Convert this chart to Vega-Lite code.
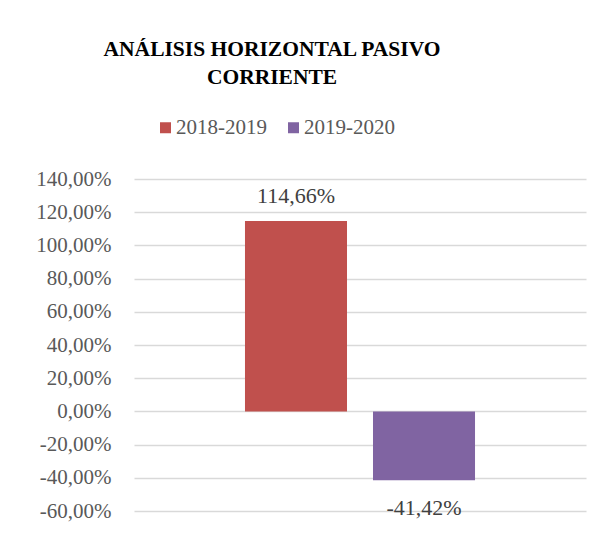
{
  "$schema": "https://vega.github.io/schema/vega-lite/v6.json",
  "width": 452,
  "height": 332,
  "autosize": "none",
  "padding": {"left": 134, "top": 179, "right": 17, "bottom": 23},
  "background": "white",
  "config": {
    "locale": {"number": {"decimal": ",", "thousands": ".", "grouping": [3], "currency": ["", " €"], "minus": "-"}},
    "view": {"stroke": null},
    "font": "Liberation Serif"
  },
  "title": {
    "text": ["ANÁLISIS HORIZONTAL PASIVO", "CORRIENTE"],
    "font": "Liberation Serif",
    "fontSize": 21.5,
    "fontWeight": "bold",
    "color": "#000000",
    "anchor": "middle",
    "dx": -88,
    "offset": 29,
    "lineHeight": 28
  },
  "data": {
    "values": [
      {"periodo": "2018-2019", "valor": 1.1466},
      {"periodo": "2019-2020", "valor": -0.4142}
    ]
  },
  "encoding": {
    "x": {
      "field": "periodo",
      "type": "nominal",
      "axis": null,
      "scale": {"paddingInner": 0.203, "paddingOuter": 0.867}
    },
    "y": {
      "field": "valor",
      "type": "quantitative",
      "scale": {"domain": [-0.6, 1.4], "nice": false, "zero": false},
      "axis": {
        "title": null,
        "format": ".2%",
        "values": [-0.6, -0.4, -0.2, 0, 0.2, 0.4, 0.6, 0.8, 1.0, 1.2, 1.4],
        "domain": false,
        "ticks": false,
        "labelFont": "Liberation Serif",
        "labelFontSize": 21,
        "labelColor": "#595959",
        "labelPadding": 23,
        "gridColor": "#d9d9d9",
        "gridWidth": 1.3
      }
    }
  },
  "layer": [
    {
      "mark": {"type": "bar"},
      "encoding": {
        "color": {
          "field": "periodo",
          "type": "nominal",
          "scale": {"domain": ["2018-2019", "2019-2020"], "range": ["#C0504D", "#8064A2"]},
          "legend": {
            "title": null,
            "orient": "none",
            "direction": "horizontal",
            "legendX": 21,
            "legendY": -62,
            "padding": 0,
            "symbolType": "square",
            "symbolSize": 121,
            "symbolStrokeWidth": 0,
            "symbolOpacity": 1,
            "labelFont": "Liberation Serif",
            "labelFontSize": 21,
            "labelColor": "#595959",
            "labelOffset": 0,
            "columnPadding": 16
          }
        }
      }
    },
    {
      "transform": [{"filter": "datum.valor > 0"}],
      "mark": {"type": "text", "baseline": "alphabetic", "dy": -18, "font": "Liberation Serif", "fontSize": 22, "color": "#404040"},
      "encoding": {"text": {"field": "valor", "type": "quantitative", "format": ".2%"}}
    },
    {
      "transform": [{"filter": "datum.valor < 0"}],
      "mark": {"type": "text", "baseline": "alphabetic", "dy": 35, "font": "Liberation Serif", "fontSize": 22, "color": "#404040"},
      "encoding": {"text": {"field": "valor", "type": "quantitative", "format": ".2%"}}
    }
  ]
}
